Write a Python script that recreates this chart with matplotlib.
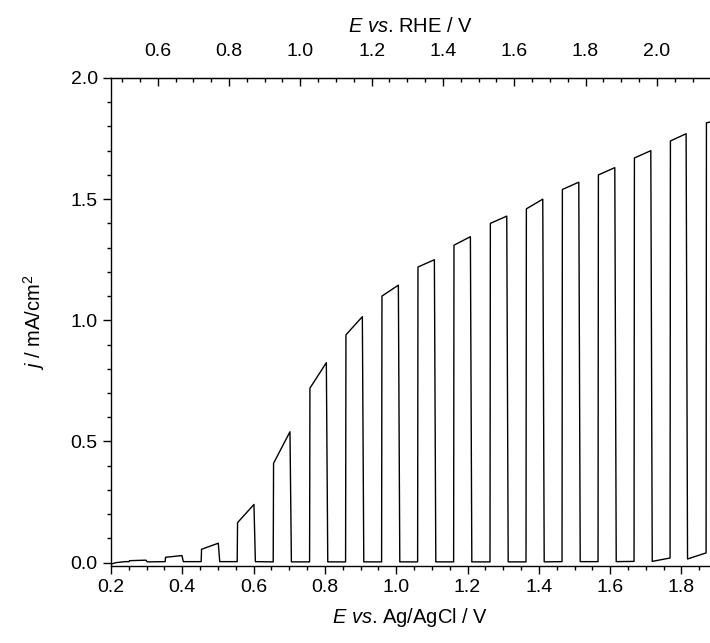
import matplotlib.pyplot as plt
from matplotlib.ticker import MultipleLocator, FixedLocator

plt.rcParams["font.family"] = ["Liberation Sans", "DejaVu Sans"]
plt.rcParams["mathtext.fontset"] = "custom"
plt.rcParams["mathtext.rm"] = "Liberation Sans"
plt.rcParams["mathtext.it"] = "Liberation Sans:italic"

# chopped-light LSV: potential where light goes on / off
light_on = [0.251, 0.352, 0.453, 0.554, 0.655, 0.757, 0.858, 0.959, 1.060, 1.161,
            1.263, 1.364, 1.465, 1.566, 1.667, 1.768, 1.869]
light_off = [0.298, 0.399, 0.501, 0.601, 0.702, 0.804, 0.905, 1.006, 1.107, 1.208,
             1.310, 1.411, 1.512, 1.613, 1.714, 1.813, 1.916]
j_on_start = [0.008, 0.022, 0.055, 0.165, 0.41, 0.72, 0.94, 1.10, 1.22, 1.31,
              1.40, 1.46, 1.54, 1.60, 1.67, 1.74, 1.815]
j_on_end = [0.010, 0.029, 0.080, 0.240, 0.54, 0.825, 1.015, 1.145, 1.25, 1.345,
            1.43, 1.50, 1.57, 1.63, 1.70, 1.77, 1.83]
# dark current right before light on / right after light off
j_dark_before = [0.004, 0.004, 0.004, 0.004, 0.003, 0.003, 0.003, 0.003, 0.003, 0.003,
                 0.003, 0.003, 0.004, 0.004, 0.005, 0.019, 0.040]
j_dark_after = [0.003, 0.004, 0.004, 0.004, 0.003, 0.003, 0.003, 0.003, 0.003, 0.003,
                0.003, 0.003, 0.004, 0.004, 0.005, 0.015, 0.034]
start_E = [0.200, 0.215, 0.240]
start_j = [-0.006, 0.000, 0.004]

rhe_offset = 0.269
rhe_ticks = [0.6, 0.8, 1.0, 1.2, 1.4, 1.6, 1.8, 2.0]

# build the trace
E = list(start_E)
j = list(start_j)
for k in range(len(light_on)):
    E += [light_on[k], light_on[k] + 0.001, light_off[k]]
    j += [j_dark_before[k], j_on_start[k], j_on_end[k]]
    if light_off[k] < 1.88:
        E += [light_off[k] + 0.004]
        j += [j_dark_after[k]]

fig = plt.figure(figsize=(7.10, 6.43), dpi=100)
ax = fig.add_axes([0.1563, 0.119, 0.8437, 0.7597])
ax.plot(E, j, color="black", linewidth=1.0)

ax.set_xlim(0.2, 1.88)
ax.set_ylim(-0.016, 2.0)
ax.spines["right"].set_visible(False)
ax.xaxis.set_major_locator(MultipleLocator(0.2))
ax.xaxis.set_minor_locator(MultipleLocator(0.05))
ax.yaxis.set_major_locator(MultipleLocator(0.5))
ax.yaxis.set_minor_locator(MultipleLocator(0.1))
ax.xaxis.set_major_formatter(lambda v, p: f"{v:.1f}")
ax.yaxis.set_major_formatter(lambda v, p: f"{v:.1f}")
ax.tick_params(which="major", direction="out", length=6, width=1, labelsize=14)
ax.tick_params(which="minor", direction="out", length=3, width=1)
ax.tick_params(axis="x", top=False, pad=3)

ax.set_xlabel(r"$\mathit{E\ vs}$. Ag/AgCl / V", fontsize=14.5, labelpad=7)
ax.set_ylabel(r"$\mathit{j}$ / mA/cm$^2$", fontsize=14.5, labelpad=17)

top = ax.secondary_xaxis("top", functions=(lambda x: x + rhe_offset, lambda x: x - rhe_offset))
top.xaxis.set_major_locator(FixedLocator(rhe_ticks))
top.xaxis.set_minor_locator(MultipleLocator(0.05))
top.xaxis.set_major_formatter(lambda v, p: f"{v:.1f}")
top.tick_params(which="major", direction="in", length=6, width=1, labelsize=14, pad=13)
top.tick_params(which="minor", direction="in", length=3, width=1)
top.set_xlabel(r"$\mathit{E\ vs}$. RHE / V", fontsize=14.5, labelpad=8)

for s in ax.spines.values():
    s.set_linewidth(1.0)

fig.savefig("out.png", dpi=100)
